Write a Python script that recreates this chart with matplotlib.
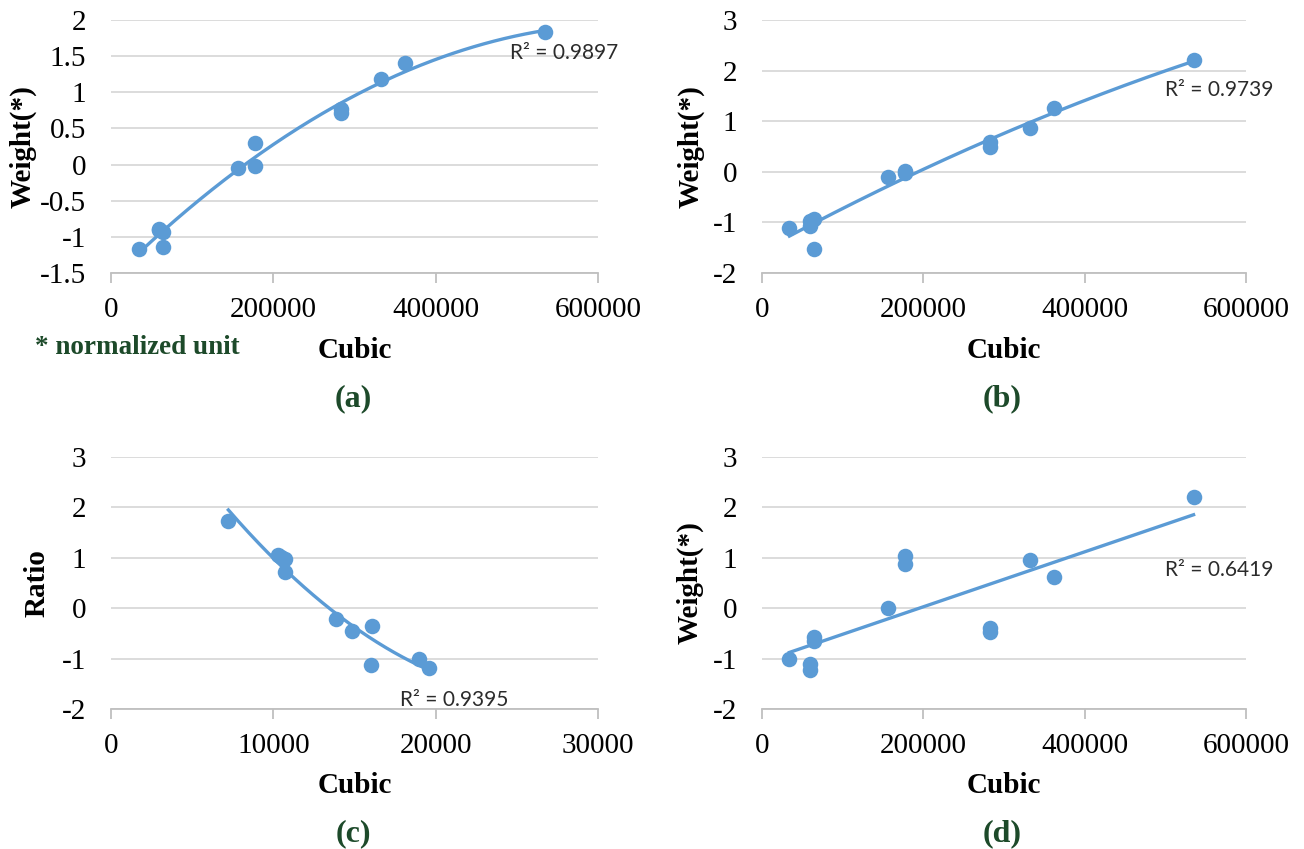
import numpy as np
import matplotlib
matplotlib.use("Agg")
import matplotlib.pyplot as plt
from matplotlib.ticker import FuncFormatter

plt.rcParams["axes.unicode_minus"] = False

# shared x values (Cubic) for panels a, b, d
cubic = [34000, 59000, 59000, 64000, 64000, 156500, 177500, 177500,
         283000, 283000, 332500, 362000, 535000]
weight_a = [-1.17, -0.89, -0.90, -0.93, -1.14, -0.05, 0.30, -0.02,
            0.77, 0.71, 1.19, 1.41, 1.83]
weight_b = [-1.11, -0.98, -1.08, -0.93, -1.53, -0.11, 0.02, -0.02,
            0.58, 0.49, 0.87, 1.26, 2.21]
weight_d = [-1.00, -1.10, -1.22, -0.57, -0.65, 0.00, 1.04, 0.88,
            -0.39, -0.48, 0.96, 0.61, 2.21]

# panel c
cubic_c = [7230, 10300, 10500, 10720, 10690, 13850, 14870, 16100,
           16030, 18950, 19620]
ratio_c = [1.74, 1.06, 1.02, 0.98, 0.71, -0.21, -0.45, -0.35,
           -1.12, -1.00, -1.19]

r2_text = ["R² = 0.9897", "R² = 0.9739", "R² = 0.9395", "R² = 0.6419"]
r2_pos = [(491000, 1.54), (500000, 1.62), (17800, -1.82), (500000, 0.76)]

BLUE = "#5b9bd5"
GREEN = "#1d4a2a"
SERIF = "Liberation Serif"

fig = plt.figure(figsize=(13.04, 8.49), dpi=100)

W = 1304.0
H = 849.0


def make_axes(left, right, top, bottom):
    return fig.add_axes([left / W, 1 - bottom / H, (right - left) / W, (bottom - top) / H])


ax_a = make_axes(111, 598, 20, 273)
ax_b = make_axes(762, 1246, 20, 273)
ax_c = make_axes(111, 598, 457, 709)
ax_d = make_axes(762, 1246, 457, 709)

panels = [
    (ax_a, cubic, weight_a, 2, (-1.5, 2), 0.5, (0, 600000), 200000, "Weight(*)", -0.152, "(a)"),
    (ax_b, cubic, weight_b, 2, (-2, 3), 1, (0, 600000), 200000, "Weight(*)", -0.118, "(b)"),
    (ax_c, cubic_c, ratio_c, 2, (-2, 3), 1, (0, 30000), 10000, "Ratio", -0.125, "(c)"),
    (ax_d, cubic, weight_d, 1, (-2, 3), 1, (0, 600000), 200000, "Weight(*)", -0.12, "(d)"),
]

fmt = FuncFormatter(lambda v, p: "%g" % v)

for i, (ax, xs, ys, deg, ylim, ystep, xlim, xstep, ylabel, ylx, tag) in enumerate(panels):
    xs = np.array(xs, dtype=float)
    ys = np.array(ys, dtype=float)

    # trendline (least squares fit like Excel)
    coef = np.polyfit(xs, ys, deg)
    xx = np.linspace(xs.min(), xs.max(), 200)
    ax.plot(xx, np.polyval(coef, xx), color=BLUE, lw=2.4, zorder=3)
    ax.scatter(xs, ys, s=125, color=BLUE, zorder=4, linewidths=0)

    ax.set_xlim(*xlim)
    ax.set_ylim(*ylim)
    ax.set_yticks(np.arange(ylim[0], ylim[1] + ystep / 2, ystep))
    ax.set_xticks(np.arange(xlim[0], xlim[1] + xstep / 2, xstep))
    ax.yaxis.set_major_formatter(fmt)
    ax.xaxis.set_major_formatter(fmt)

    ax.grid(axis="y", color="#d9d9d9", lw=1.3)
    ax.set_axisbelow(True)
    for s in ["top", "right", "left"]:
        ax.spines[s].set_visible(False)
    ax.spines["bottom"].set_color("#bfbfbf")
    ax.spines["bottom"].set_linewidth(1.3)
    ax.spines["bottom"].set_zorder(1)

    ax.tick_params(axis="y", length=0, pad=18, labelsize=21)
    ax.tick_params(axis="x", length=7, width=1.3, color="#bfbfbf", pad=10, labelsize=21)
    for lab in ax.get_xticklabels() + ax.get_yticklabels():
        lab.set_fontfamily(SERIF)

    ax.set_ylabel(ylabel, fontsize=21, fontweight="bold", family=SERIF)
    ax.yaxis.set_label_coords(ylx, 0.5)

    ax.text(0.5, -0.305, "Cubic", transform=ax.transAxes, ha="center", va="center",
            fontsize=21, fontweight="bold", family=SERIF)
    ax.text(0.497, -0.495, tag, transform=ax.transAxes, ha="center", va="center",
            fontsize=23, fontweight="bold", family=SERIF, color=GREEN)

    ax.text(r2_pos[i][0], r2_pos[i][1], r2_text[i], ha="left", va="center",
            fontsize=15, family="Lato", color="#2b2b2b", zorder=5)

fig.text(137 / W, 1 - 348 / H, "* normalized unit", ha="center", va="center",
         fontsize=19.5, fontweight="bold", family=SERIF, color=GREEN)

fig.savefig("out.png", dpi=100)
